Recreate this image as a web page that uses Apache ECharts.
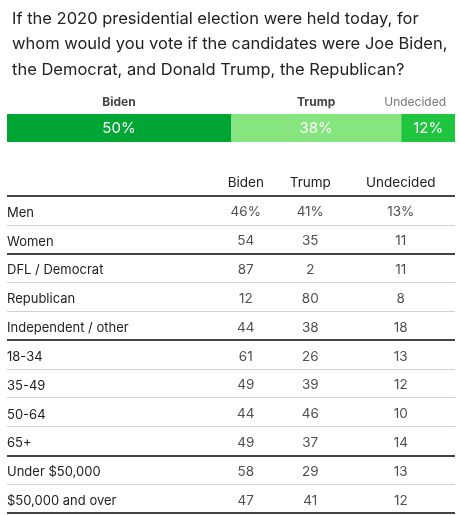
<!DOCTYPE html>
<html>
<head>
<meta charset="utf-8">
<script src="https://cdn.jsdelivr.net/npm/echarts@6/dist/echarts.min.js"></script>
<style>html,body{margin:0;padding:0;background:#fff}#c{width:460px;height:515px}</style>
</head>
<body>
<div id="c"></div>
<script>
var titleText = "If the 2020 presidential election were held today, for\nwhom would you vote if the candidates were Joe Biden,\nthe Democrat, and Donald Trump, the Republican?";
var candidates = ["Biden", "Trump", "Undecided"];
var overall = [50, 38, 12];
var rowLabels = ["Men", "Women", "DFL / Democrat", "Republican", "Independent / other", "18-34", "35-49", "50-64", "65+", "Under $50,000", "$50,000 and over"];
var bidenVals = [46, 54, 87, 12, 44, 61, 49, 44, 49, 58, 47];
var trumpVals = [41, 35, 2, 80, 38, 26, 39, 46, 37, 29, 41];
var undecidedVals = [13, 11, 11, 8, 18, 13, 12, 10, 14, 13, 12];
var groupSizes = [2, 3, 4, 2];

var FONT = "Inter";
var barColors = ["#00a534", "#86e57f", "#1fc43f"];
var nameColors = ["#444", "#444", "#777"];
var nameWeights = ["bold", "bold", "normal"];
var nameOffsets = [[0, 2], [0, 2], [-13, 2]];

// line styles: thick lines at group boundaries
var nLines = rowLabels.length + 1;
var thickIdx = [0];
var acc = 0;
groupSizes.forEach(function (g) { acc += g; thickIdx.push(acc); });
var thinColors = [], thickColors = [];
for (var i = 0; i < nLines; i++) {
  var isThick = thickIdx.indexOf(i) >= 0;
  thinColors.push(isThick ? "rgba(0,0,0,0)" : "#d0d0d0");
  thickColors.push(isThick ? "#444" : "rgba(0,0,0,0)");
}

var colVals = [bidenVals, trumpVals, undecidedVals];
var colOffsets = [[0, 2], [-13, 2], [0, 2]];

var series = [];
candidates.forEach(function (c, k) {
  series.push({
    type: "bar", name: c, stack: "total", xAxisIndex: 0, yAxisIndex: 0,
    barWidth: "100%", silent: true,
    data: [
      { value: overall[k], itemStyle: { color: "rgba(0,0,0,0)" },
        label: { show: true, position: "inside", formatter: c, color: nameColors[k], fontWeight: nameWeights[k], fontSize: 12, offset: nameOffsets[k] } },
      { value: overall[k], itemStyle: { color: barColors[k] },
        label: { show: true, position: "inside", formatter: overall[k] + "%", color: "#fff", fontSize: 15 } }
    ]
  });
});
candidates.forEach(function (c, k) {
  series.push({
    type: "scatter", name: c + " table", xAxisIndex: 2, yAxisIndex: 3,
    symbolSize: 0, silent: true,
    data: colVals[k].map(function (v, i) { return [c, rowLabels[i], v]; }),
    label: { show: true, position: "inside", color: "#222", fontSize: 13.5, offset: colOffsets[k],
      formatter: function (p) { return p.dataIndex === 0 ? p.value[2] + "%" : String(p.value[2]); } }
  });
});

var chart = echarts.init(document.getElementById("c"), null, { renderer: "canvas" });
chart.setOption({
  animation: false,
  textStyle: { fontFamily: FONT },
  title: { text: titleText, left: 7, top: 1,
    textStyle: { fontFamily: FONT, fontSize: 16.5, fontWeight: "normal", color: "#222", lineHeight: 25.5 } },
  grid: [
    { left: 7, right: 5, top: 86, height: 56 },
    { left: 7, right: 5, top: 196, bottom: 2 },
    { left: 207, width: 232.5, top: 196, bottom: 2 }
  ],
  xAxis: [
    { type: "value", gridIndex: 0, min: 0, max: 100, show: false },
    { type: "value", gridIndex: 1, min: 0, max: 1, show: false },
    { type: "category", gridIndex: 2, data: candidates, position: "top",
      axisLine: { show: false }, axisTick: { show: false }, splitLine: { show: false },
      axisLabel: { interval: 0, hideOverlap: false, margin: 6, fontSize: 13.5, color: "#222",
        formatter: function (v) { return v === "Trump" ? "{t|Trump}" : v; },
        rich: { t: { fontSize: 13.5, color: "#222", padding: [0, 26, 0, 0] } } } }
  ],
  yAxis: [
    { type: "category", gridIndex: 0, data: ["names", "bar"], inverse: true, show: false },
    { type: "category", gridIndex: 1, data: rowLabels, inverse: true,
      axisLine: { show: false }, axisTick: { show: false },
      axisLabel: { inside: true, margin: 0, fontSize: 13, color: "#222",
        formatter: function (v) { return "{r|" + v + "}"; },
        rich: { r: { fontSize: 13, color: "#222", fontFamily: FONT, padding: [5, 0, 0, 0] } } },
      splitLine: { show: true, interval: 0, lineStyle: { color: thinColors, width: 1 } } },
    { type: "category", gridIndex: 1, data: rowLabels, inverse: true, position: "right",
      axisLine: { show: false }, axisTick: { show: false }, axisLabel: { show: false },
      splitLine: { show: true, interval: 0, lineStyle: { color: thickColors, width: 2 } } },
    { type: "category", gridIndex: 2, data: rowLabels, inverse: true, show: false }
  ],
  series: series
});
</script>
</body>
</html>
